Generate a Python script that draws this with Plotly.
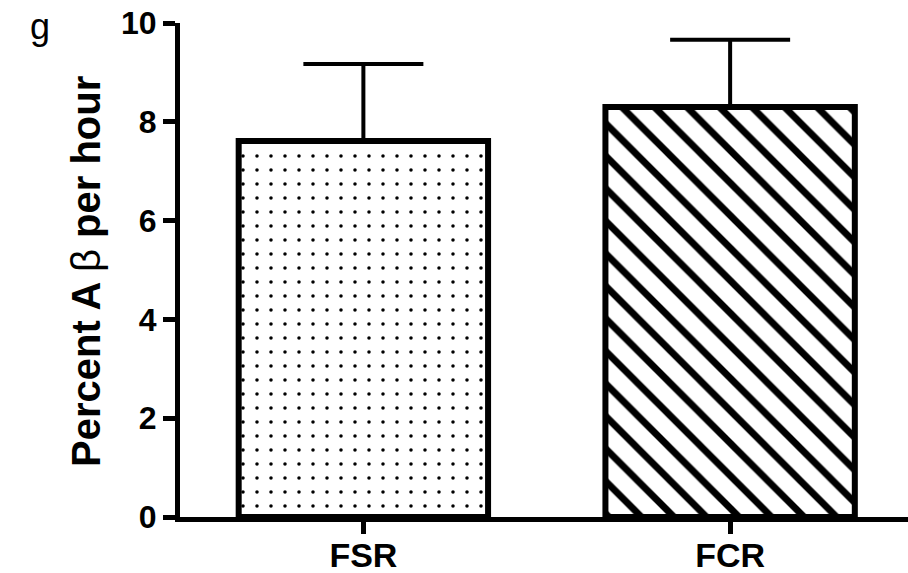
import plotly.graph_objects as go

categories = ["FSR", "FCR"]
values = [7.61, 8.30]
errors_upper = [1.56, 1.36]
y_ticks = [0, 2, 4, 6, 8, 10]

FONT = "Arial, Liberation Sans, sans-serif"

fig = go.Figure()
fig.add_trace(go.Bar(
    x=[0, 1],
    y=values,
    width=0.68,
    marker=dict(
        color="white",
        line=dict(color="black", width=6),
        pattern=dict(
            shape=[".", "\\"],
            fgcolor="black",
            bgcolor="white",
            fgopacity=1,
            size=[14, 23],
            solidity=[0.05, 0.3],
            fillmode="replace",
        ),
    ),
    error_y=dict(
        type="data",
        symmetric=False,
        array=errors_upper,
        arrayminus=[0, 0],
        color="black",
        thickness=4,
        width=60,
    ),
))

fig.update_layout(
    width=908, height=573,
    margin=dict(l=180, r=0, t=23, b=56),
    paper_bgcolor="white", plot_bgcolor="white",
    showlegend=False,
    font=dict(family=FONT, color="black"),
    xaxis=dict(
        range=[-0.5, 1.485],
        tickmode="array", tickvals=[0, 1], ticktext=[f"<b>{c}</b>" for c in categories],
        tickfont=dict(size=34, family=FONT),
        showline=True, linewidth=5, linecolor="black",
        ticks="outside", ticklen=12, tickwidth=5, tickcolor="black",
        ticklabelstandoff=-8, ticklabeloverflow="allow",
        showgrid=False, zeroline=False, automargin=False,
    ),
    yaxis=dict(
        range=[0, 10],
        tickmode="array", tickvals=y_ticks, ticktext=[f"<b>{t}</b>" for t in y_ticks],
        tickfont=dict(size=32, family=FONT),
        showline=True, linewidth=5, linecolor="black",
        ticks="outside", ticklen=12, tickwidth=5, tickcolor="black",
        ticklabeloverflow="allow",
        showgrid=False, zeroline=False, automargin=False,
    ),
    annotations=[
        dict(
            text="<b>Percent A </b>β<b> per hour</b>",
            textangle=-90, xref="paper", yref="paper",
            x=0, y=0.496, xanchor="center", yanchor="middle",
            xshift=-94, showarrow=False,
            font=dict(size=40, family=FONT),
        ),
        dict(
            text="g",
            xref="paper", yref="paper", x=0, y=1,
            xanchor="left", yanchor="middle",
            xshift=-152, yshift=-3, showarrow=False,
            font=dict(size=36, family=FONT),
        ),
    ],
)

fig.write_html(
    "out.html",
    config={"displayModeBar": False},
    post_script="document.body.style.margin='0';document.body.style.padding='0';",
)
